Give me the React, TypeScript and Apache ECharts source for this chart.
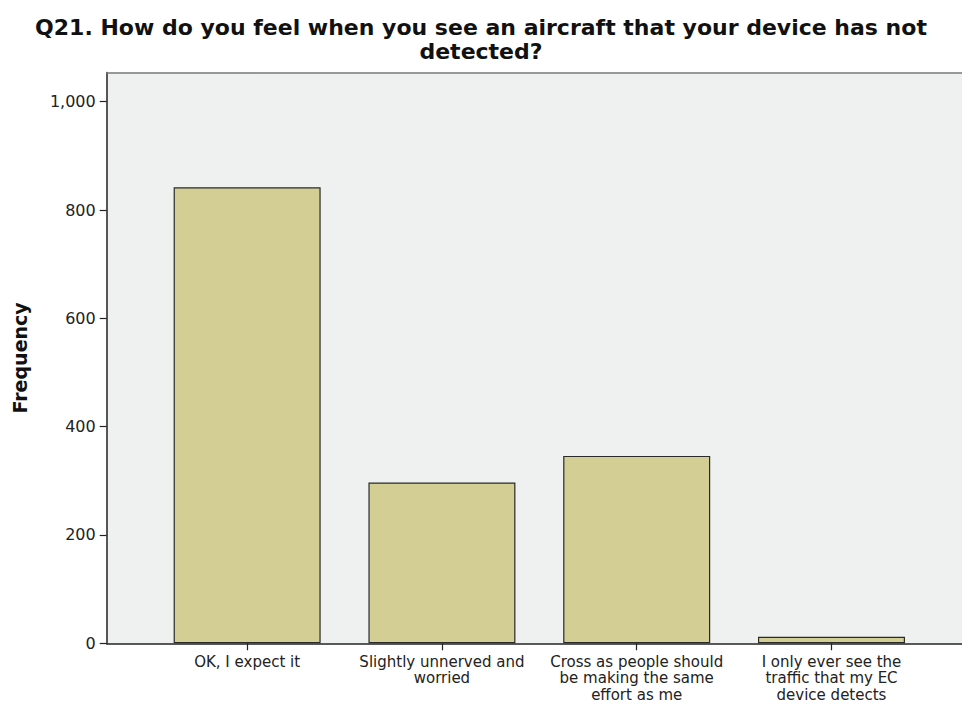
import React, { useEffect, useRef } from "react";
import * as echarts from "echarts";

const categories = [
  "OK, I expect it",
  "Slightly unnerved and\nworried",
  "Cross as people should\nbe making the same\neffort as me",
  "I only ever see the\ntraffic that my EC\ndevice detects",
];
const frequencies = [842, 297, 346, 12];
const yTicks = [0, 200, 400, 600, 800, 1000];
const xPositions = [1, 2, 3, 4];
const titleText = "Q21. How do you feel when you see an aircraft that your device has not\ndetected?";

export default function App() {
  const ref = useRef<HTMLDivElement>(null);
  useEffect(() => {
    if (!ref.current) return;
    const chart = echarts.init(ref.current, null, { renderer: "svg" });
    const font = "'DejaVu Sans', sans-serif";
    const xMin = 0.279;
    const xMax = 4.67;
    chart.setOption({
      animation: false,
      backgroundColor: "#ffffff",
      title: {
        text: titleText,
        left: "center",
        top: 10,
        textStyle: {
          fontFamily: "'DejaVu Sans', sans-serif",
          fontSize: 22,
          fontWeight: "bold",
          color: "#111",
          lineHeight: 24,
        },
      },
      grid: {
        left: 106.7,
        right: 0,
        top: 72.5,
        bottom: 63.7,
        show: true,
        backgroundColor: "#eff0f0",
        borderWidth: 0,
      },
      xAxis: [
        {
          type: "value",
          min: xMin,
          max: xMax,
          splitLine: { show: false },
          axisLine: { show: true, lineStyle: { color: "#222", width: 1.5 } },
          axisTick: {
            show: true,
            customValues: xPositions,
            length: 7,
            lineStyle: { color: "#222", width: 1.2 },
          },
          axisLabel: {
            customValues: xPositions,
            formatter: (v: number) => categories[Math.round(v) - 1] ?? "",
            fontFamily: font,
            fontSize: 15,
            color: "#222",
            lineHeight: 16.5,
            margin: 10,
            align: "center",
          },
        },
        {
          type: "value",
          position: "top",
          min: xMin,
          max: xMax,
          splitLine: { show: false },
          axisLine: { show: true, lineStyle: { color: "#7a7a7a", width: 1.5 } },
          axisTick: { show: false },
          axisLabel: { show: false },
        },
      ],
      yAxis: {
        type: "value",
        min: 0,
        max: 1054,
        name: "Frequency",
        nameLocation: "middle",
        nameRotate: 90,
        nameGap: 77,
        nameTextStyle: {
          fontFamily: font,
          fontSize: 19,
          fontWeight: "bold",
          color: "#111",
        },
        splitLine: { show: false },
        axisLine: { show: true, lineStyle: { color: "#222", width: 1.5 } },
        axisTick: {
          show: true,
          customValues: yTicks,
          length: 7,
          lineStyle: { color: "#222", width: 1.2 },
        },
        axisLabel: {
          customValues: yTicks,
          formatter: (v: number) => v.toLocaleString("en-US"),
          fontFamily: font,
          fontSize: 16,
          color: "#222",
          margin: 11,
        },
      },
      series: [
        {
          type: "bar",
          xAxisIndex: 0,
          data: frequencies.map((v, i) => [xPositions[i], v]),
          barWidth: 147,
          itemStyle: {
            color: "#d3ce93",
            borderColor: "#2a2a2a",
            borderWidth: 1.2,
          },
        },
      ],
    });
    return () => chart.dispose();
  }, []);
  return <div ref={ref} style={{ width: 962, height: 707, position: "absolute", left: 0, top: 0 }} />;
}
